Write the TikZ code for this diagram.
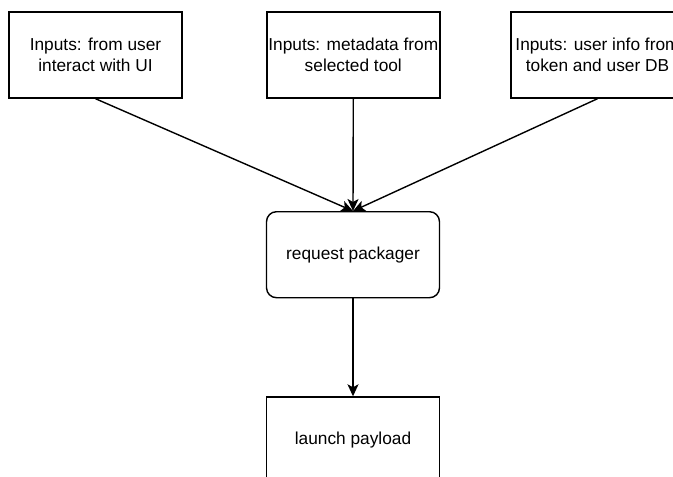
\documentclass[tikz,border=0pt]{standalone}
\usepackage{fontspec}
\setmainfont{Liberation Sans}
\usetikzlibrary{arrows.meta}
\begin{document}
\begin{tikzpicture}[x=1pt,y=-1pt,
  box/.style={draw=black,line width=1.4pt,fill=white,minimum width=173pt,minimum height=86pt,
    inner sep=0pt,align=center,font=\fontsize{17.3}{20.7}\selectfont,text=black},
  rbox/.style={box,rounded corners=10pt},
  conn/.style={draw=black,line width=1.4pt,-{Stealth[length=12pt,width=11pt,inset=3pt]}}]
\useasboundingbox (0,0) rectangle (673,477);
\clip (0,0) rectangle (673,477);
\node[box] (b1) at (95.5,55) {Inputs: from user\\interact with UI};
\node[box] (b2) at (353.3,55) {Inputs: metadata from\\selected tool};
\node[box] (b3) at (597.5,55) {Inputs: user info from\\token and user DB};
\node[rbox] (req) at (353,254.7) {request packager};
\node[box] (launch) at (353,440) {launch payload};
\draw[conn] (b1.south) -- (req.north);
\draw[conn] (b2.south) -- (req.north);
\draw[conn] (b3.south) -- (req.north);
\draw[conn] (req.south) -- (launch.north);
\end{tikzpicture}
\end{document}
